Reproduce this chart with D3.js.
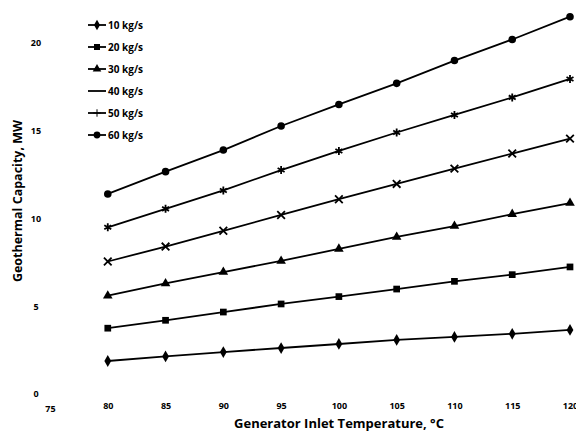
<!DOCTYPE html>
<html>
<head>
<meta charset="utf-8">
<script src="https://cdn.jsdelivr.net/npm/d3@7"></script>
<style>
  body { margin: 0; background: #fff; }
  text { font-family: "Open Sans", "Liberation Sans", sans-serif; font-weight: 700; fill: #000; }
</style>
</head>
<body>
<div id="graph"></div>
<script>
// data
var temps = [80, 85, 90, 95, 100, 105, 110, 115, 120];
var xTicks = [75, 80, 85, 90, 95, 100, 105, 110, 115, 120];
var yTicks = [0, 5, 10, 15, 20];
var seriesNames = ["10 kg/s", "20 kg/s", "30 kg/s", "40 kg/s", "50 kg/s", "60 kg/s"];
var flow10 = [1.88, 2.14, 2.39, 2.62, 2.85, 3.08, 3.25, 3.43, 3.65];
var flow20 = [3.75, 4.2, 4.67, 5.13, 5.55, 5.98, 6.42, 6.8, 7.24];
var flow30 = [5.6, 6.3, 6.95, 7.58, 8.27, 8.95, 9.57, 10.25, 10.88];
var flow40 = [7.55, 8.4, 9.3, 10.2, 11.1, 11.97, 12.84, 13.7, 14.55];
var flow50 = [9.5, 10.55, 11.6, 12.76, 13.85, 14.9, 15.9, 16.9, 17.95];
var flow60 = [11.4, 12.67, 13.9, 15.27, 16.5, 17.7, 19.0, 20.2, 21.5];

var allSeries = [flow10, flow20, flow30, flow40, flow50, flow60];
var symbols = [d3.symbolDiamond, d3.symbolSquare, d3.symbolTriangle, d3.symbolX, d3.symbolAsterisk, d3.symbolCircle];
var symSize = [40, 45, 40, 40, 45, 45];
var filled = [true, true, true, false, false, true];

var width = 576, height = 434;

var svg = d3.select("#graph").append("svg")
    .attr("width", width)
    .attr("height", height);

var x = d3.scaleLinear().domain([75, 120]).range([50, 570]);
var y = d3.scaleLinear().domain([0, 20]).range([394, 43]);

// tick labels (no axis lines in the original)
var xAxis = svg.append("g")
    .attr("transform", "translate(0,401)")
    .call(d3.axisBottom(x).tickValues(xTicks).tickSize(0).tickPadding(2));
xAxis.select(".domain").remove();
xAxis.selectAll("text")
    .style("font-size", "9px")
    .style("font-family", "'Open Sans', sans-serif")
    .style("font-weight", "700")
    .attr("dy", function(d){ return d == 75 ? "1.0em" : "0.71em"; });

var yAxis = svg.append("g")
    .attr("transform", "translate(41,0)")
    .call(d3.axisLeft(y).tickValues(yTicks).tickSize(0).tickPadding(0));
yAxis.select(".domain").remove();
yAxis.selectAll("text")
    .style("font-size", "9px")
    .style("font-family", "'Open Sans', sans-serif")
    .style("font-weight", "700")
    .attr("text-anchor", "middle")
    .attr("x", -5);

// axis titles
svg.append("text")
    .attr("x", 339)
    .attr("y", 428)
    .attr("text-anchor", "middle")
    .style("font-size", "13px")
    .text("Generator Inlet Temperature, °C");

svg.append("text")
    .attr("transform", "translate(22,201) rotate(-90)")
    .attr("text-anchor", "middle")
    .style("font-size", "12.5px")
    .text("Geothermal Capacity, MW");

// lines
var line = d3.line()
    .x(function(d, i){ return x(temps[i]); })
    .y(function(d){ return y(d); });

allSeries.forEach(function(s, k){
  var g = svg.append("g");
  g.append("path")
    .datum(s)
    .attr("d", line)
    .attr("fill", "none")
    .attr("stroke", "#000")
    .attr("stroke-width", 1.8);

  g.selectAll("path.pt")
    .data(s)
    .enter()
    .append("path")
    .attr("class", "pt")
    .attr("transform", function(d, i){ return "translate(" + x(temps[i]) + "," + y(d) + ")"; })
    .attr("d", d3.symbol().type(symbols[k]).size(symSize[k]))
    .attr("fill", filled[k] ? "#000" : "none")
    .attr("stroke", "#000")
    .attr("stroke-width", filled[k] ? 0 : 1.8);
});

// legend
var legend = svg.append("g");
seriesNames.forEach(function(name, k){
  var ly = 25 + k * 22;
  legend.append("line")
    .attr("x1", 88).attr("x2", 106)
    .attr("y1", ly).attr("y2", ly)
    .attr("stroke", "#000")
    .attr("stroke-width", 1.8);
  if (k != 3) {
    legend.append("path")
      .attr("transform", "translate(97," + ly + ")")
      .attr("d", d3.symbol().type(k == 4 ? d3.symbolPlus : symbols[k]).size(k == 4 ? 20 : symSize[k] * 0.8))
      .attr("fill", filled[k] ? "#000" : "none")
      .attr("stroke", "#000")
      .attr("stroke-width", filled[k] ? 0 : 1);
  }
  legend.append("text")
    .attr("x", 108)
    .attr("y", ly)
    .attr("dy", "0.35em")
    .style("font-size", "10px")
    .text(name);
});
</script>
</body>
</html>
